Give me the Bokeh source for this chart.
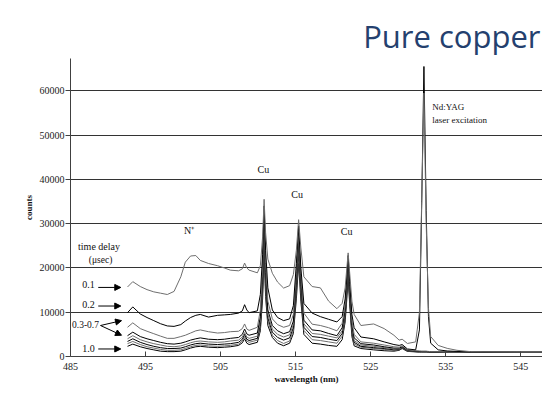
from bokeh.plotting import figure
from bokeh.models import FixedTicker, Arrow, NormalHead, Label, Range1d
from bokeh.embed import file_html
from bokeh.resources import INLINE

# ---------------- data ----------------
wavelength = [492.6, 493.3, 494.3, 495.2, 496.1, 497.0, 497.9, 498.8, 499.7, 500.3,
              501.0, 501.7, 502.3, 503.4, 504.6, 505.5, 506.3, 507.4, 507.9, 508.2,
              508.5, 508.8, 509.9,
              510.3, 510.6, 510.8, 511.0, 511.3, 511.9, 512.6, 513.4,
              514.2, 514.7, 515.1, 515.4, 515.7, 516.1,
              517.2, 518.3, 519.4, 520.5,
              521.2, 521.6, 521.8, 522.0, 522.2, 522.5, 522.8,
              523.7, 525.4, 526.8, 528.1, 528.8, 529.2, 529.9, 531.0,
              531.5, 531.8, 532.1, 532.4, 532.7, 533.0, 534.0, 535.2, 536.5, 538.3,
              540.0, 545.0, 548.5]

delay_labels = ["0.1", "0.2", "0.3", "0.4", "0.5", "0.6", "0.7", "1.0"]

counts_0_1 = [15700, 16900, 15800, 15100, 14600, 14300, 14000, 14700, 18000, 21300,
              22700, 22800, 21700, 21000, 20500, 20000, 19500, 19350, 19800, 21100,
              20000, 19500, 18900,
              20500, 27000, 35500, 28000, 22000, 18800, 16800, 15450,
              16000, 18500, 24000, 30900, 24500, 18000,
              15800, 15500, 12500, 10800,
              12000, 15500, 19500, 23400, 19000, 12500, 9500,
              7000, 7350, 6300, 4800, 3700, 3900, 2940, 3300,
              10000, 35000, 59500, 30000, 11000, 4500, 2500, 1840, 1400, 1100,
              1050, 1000, 1000]

counts_0_2 = [9900, 11200, 9600, 8800, 8100, 7400, 6900, 6800, 7200, 8000,
              8800, 9300, 9500, 8900, 9300, 9400, 9500, 9800, 10300, 11700,
              10500, 9900, 10300,
              14000, 23000, 34000, 24000, 15500, 10500, 8800, 8100,
              8500, 11500, 21000, 29500, 20000, 12000,
              9800, 9000, 8400, 7800,
              9000, 13000, 17500, 22800, 17000, 9500, 6500,
              4400, 4000, 3300, 2700, 2500, 2700, 1700, 1500,
              6000, 34000, 65500, 33000, 9000, 3000, 1500, 1250, 1150, 1050,
              1000, 1000, 1000]

counts_0_3 = [6600, 7600, 6300, 5700, 5150, 4600, 4100, 4100, 4500, 4800,
              5300, 5800, 6000, 5600, 5300, 5400, 5600, 5700, 6300, 7350,
              6200, 5900, 6600,
              10500, 20000, 32000, 21000, 12500, 8500, 7200, 6600,
              7000, 9500, 19000, 28000, 18500, 9800,
              7300, 7000, 6500, 5800,
              7500, 11500, 16500, 22000, 16000, 8000, 5000,
              3300, 3000, 2600, 2200, 2100, 2400, 1500, 1300,
              1250, 1200, 1200, 1200, 1150, 1100, 1050, 1000, 1000, 1000,
              1000, 950, 950]

counts_0_4 = [4700, 5500, 4500, 4000, 3600, 3200, 2900, 2800, 3000, 3300,
              3700, 4000, 4200, 3900, 3800, 3900, 4100, 4300, 5000, 6200,
              5100, 4800, 5300,
              9000, 18000, 30500, 19000, 10500, 7000, 5800, 5150,
              5600, 8000, 17500, 26800, 17000, 8200,
              6000, 5800, 5200, 4700,
              6500, 10500, 15500, 21200, 15000, 7000, 4200,
              2900, 2600, 2200, 1900, 1900, 2200, 1400, 1200,
              1150, 1150, 1150, 1150, 1100, 1050, 1000, 1000, 980, 980,
              980, 950, 950]

counts_0_5 = [4000, 4700, 3800, 3300, 2900, 2600, 2300, 2200, 2400, 2700,
              3100, 3400, 3500, 3300, 3200, 3300, 3500, 3700, 4400, 5400,
              4400, 4100, 4600,
              8000, 16500, 29000, 17500, 9500, 6200, 5000, 4400,
              4900, 7200, 16500, 25500, 16000, 7400,
              5200, 5000, 4600, 4200,
              5800, 9800, 15000, 20500, 14300, 6300, 3600,
              2600, 2300, 2000, 1700, 1700, 2100, 1300, 1150,
              1100, 1100, 1100, 1100, 1050, 1000, 980, 960, 950, 950,
              950, 930, 930]

counts_0_6 = [3400, 4000, 3200, 2700, 2300, 2000, 1800, 1800, 1900, 2200,
              2600, 2900, 3000, 2800, 2700, 2800, 2900, 3200, 3900, 5000,
              3900, 3600, 4100,
              7200, 15500, 27500, 16500, 8700, 5500, 4300, 3700,
              4200, 6500, 15500, 24200, 15000, 6600,
              4500, 4300, 3900, 3600,
              5200, 9200, 14300, 19800, 13600, 5700, 3200,
              2300, 2000, 1800, 1500, 1600, 2000, 1250, 1100,
              1080, 1080, 1080, 1080, 1030, 990, 960, 950, 940, 940,
              940, 920, 920]

counts_0_7 = [2900, 3400, 2700, 2200, 1900, 1600, 1400, 1400, 1500, 1800,
              2200, 2500, 2600, 2400, 2300, 2400, 2500, 2800, 3500, 4500,
              3500, 3200, 3700,
              6500, 14500, 26000, 15000, 8000, 4800, 3600, 2950,
              3500, 5800, 14500, 23000, 14000, 5900,
              3800, 3600, 3300, 3000,
              4600, 8600, 13600, 19000, 13000, 5200, 2800,
              2100, 1800, 1600, 1400, 1500, 1900, 1200, 1100,
              1050, 1050, 1050, 1050, 1000, 980, 950, 940, 930, 930,
              930, 910, 910]

counts_1_0 = [2300, 2800, 2200, 1800, 1500, 1200, 1100, 1100, 1200, 1500,
              1900, 2200, 2300, 2100, 2000, 2100, 2200, 2500, 3100, 4000,
              3000, 2700, 3200,
              5800, 13000, 23500, 13500, 7000, 4300, 3000, 2430,
              3000, 5200, 13000, 21000, 12500, 5000,
              3000, 2800, 2500, 2300,
              3800, 7800, 12500, 17500, 12000, 4500, 2400,
              1800, 1500, 1300, 1200, 1400, 1800, 1150, 1050,
              1000, 1000, 1000, 1000, 980, 960, 940, 930, 920, 920,
              920, 900, 900]

series = [counts_0_1, counts_0_2, counts_0_3, counts_0_4,
          counts_0_5, counts_0_6, counts_0_7, counts_1_0]

x_ticks = [485, 495, 505, 515, 525, 535, 545]
y_ticks = [0, 10000, 20000, 30000, 40000, 50000, 60000]

title_text = "Pure copper"
x_label = "wavelength (nm)"
y_label = "counts"

# ---------------- figure ----------------
SERIF = "Liberation Serif"
Y_TOP = 67300

p = figure(width=542, height=387, output_backend="svg", toolbar_location=None,
           x_range=Range1d(485, 547.9), y_range=Range1d(0, Y_TOP),
           min_border_left=70, min_border_right=0, min_border_top=58,
           min_border_bottom=31)
p.outline_line_color = None
p.background_fill_color = "white"

p.title.text = title_text
p.title.align = "right"
p.title.vertical_align = "top"
p.title.text_font = "Open Sans"
p.title.text_font_style = "normal"
p.title.text_font_size = "31px"
p.title.text_color = "#24406e"
p.title.offset = 2
p.title.standoff = 0

# axes
p.xaxis.ticker = FixedTicker(ticks=x_ticks)
p.yaxis.ticker = FixedTicker(ticks=y_ticks)
for ax in (p.xaxis[0], p.yaxis[0]):
    ax.axis_line_color = "#404040"
    ax.major_tick_line_color = "#404040"
    ax.minor_tick_line_color = None
    ax.major_label_text_font = SERIF
    ax.major_label_text_font_size = "10px"
    ax.major_label_text_color = "#222222"
    ax.axis_label_text_font = SERIF
    ax.axis_label_text_font_style = "bold"
    ax.axis_label_text_font_size = "9px"
    ax.axis_label_text_color = "#111111"
p.xaxis.major_tick_in = 5
p.xaxis.major_tick_out = 0
p.xaxis.major_label_standoff = 6
p.xaxis.axis_label = x_label
p.xaxis.axis_label_standoff = 1
p.yaxis.major_tick_in = 0
p.yaxis.major_tick_out = 5
p.yaxis.major_label_standoff = 1
p.yaxis.axis_label = y_label
p.yaxis.axis_label_standoff = 3

p.xgrid.grid_line_color = None
p.ygrid.ticker = FixedTicker(ticks=y_ticks[1:])
p.ygrid.grid_line_color = "#333333"
p.ygrid.grid_line_width = 1

# spectra
colors = ["#6e6e6e", "#000000", "#6e6e6e", "#000000",
          "#6e6e6e", "#000000", "#6e6e6e", "#000000"]
for counts, col in zip(reversed(series), reversed(colors)):
    p.line(wavelength, counts, line_color=col, line_width=1)

# annotations
def lab(x, y, t, size="10px", align="center", baseline="middle", style="normal"):
    p.add_layout(Label(x=x, y=y, text=t, text_font=SERIF, text_font_size=size,
                       text_align=align, text_baseline=baseline,
                       text_font_style=style, text_color="#111111"))

lab(500.8, 28500, "N\u207a")
lab(510.7, 42200, "Cu")
lab(515.2, 36600, "Cu")
lab(521.8, 28300, "Cu")
lab(533.2, 56300, "Nd:YAG", size="9px", align="left")
lab(533.2, 53400, "laser excitation", size="9px", align="left")

lab(488.8, 24800, "time delay", size="10px")
lab(489.0, 21900, "(\u03bcsec)", size="9.5px")
lab(487.4, 16300, delay_labels[0])
lab(487.4, 11700, delay_labels[1])
lab(487.0, 7200, "0.3-0.7", size="9.5px")
lab(487.4, 1850, delay_labels[7])

def arrow(x0, y0, x1, y1):
    p.add_layout(Arrow(end=NormalHead(size=6, fill_color="black", line_color="black"),
                       x_start=x0, y_start=y0, x_end=x1, y_end=y1,
                       line_color="black", line_width=1))

arrow(488.7, 15600, 491.7, 15600)
arrow(488.7, 11400, 491.7, 11400)
arrow(489.0, 7000, 491.8, 8100)
arrow(489.0, 7000, 491.8, 4800)
arrow(488.7, 1700, 491.7, 1700)

open("out.html", "w").write(file_html(p, INLINE))
